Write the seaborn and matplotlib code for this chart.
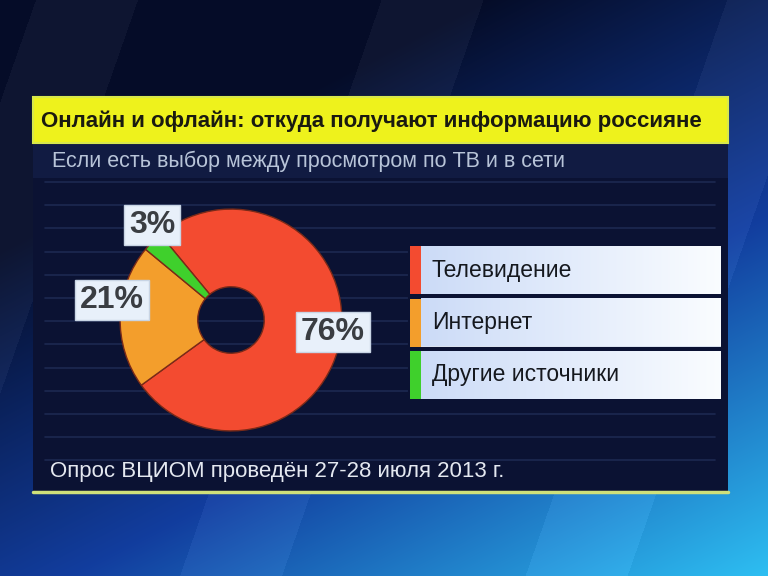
import numpy as np
import matplotlib
matplotlib.use("Agg")
import matplotlib.pyplot as plt
import seaborn as sns
from matplotlib.patches import Rectangle

sns.set_theme(style="white")
plt.rcParams['font.family'] = ['Liberation Sans', 'DejaVu Sans']

# ---- data ----
title = "Онлайн и офлайн: откуда получают информацию россияне"
subtitle = "Если есть выбор между просмотром по ТВ и в сети"
footer = "Опрос ВЦИОМ проведён 27-28 июля 2013 г."
categories = ["Телевидение", "Интернет", "Другие источники"]
values = [76, 21, 3]
labels = ["76%", "21%", "3%"]
colors = ["#f34b30", "#f39e2c", "#3fd02c"]

W, H = 768, 576
fig = plt.figure(figsize=(W / 100, H / 100), dpi=100)

# ---- background ----
bg = fig.add_axes([0, 0, 1, 1])
bg.set_xlim(0, W)
bg.set_ylim(H, 0)
bg.axis("off")
yy, xx = np.mgrid[0:H, 0:W] / np.array([H, W])[:, None, None]
t = np.clip(0.55 * xx + 0.8 * yy - 0.35, 0, 1)
dark = np.array([0.02, 0.05, 0.16])
mid = np.array([0.07, 0.24, 0.62])
light = np.array([0.18, 0.75, 0.95])
img = np.where(t[..., None] < 0.5,
               dark + (mid - dark) * (t[..., None] / 0.5),
               mid + (light - mid) * ((t[..., None] - 0.5) / 0.5))
band = 0.035 * (np.sin((xx * W + yy * H * 0.35) / 55.0) > 0.6)
img = np.clip(img + band[..., None], 0, 1)
bg.imshow(img, extent=[0, W, H, 0], aspect="auto", zorder=0)

# panel
bg.add_patch(Rectangle((33, 143), 695, 350, facecolor="#0b1233", edgecolor="none", zorder=1))
bg.add_patch(Rectangle((33, 143), 695, 35, facecolor="#111b42", edgecolor="none", zorder=1))
for y in np.arange(182, 462, 23.2):
    bg.plot([45, 715], [y, y], color="#1c2850", lw=1.2, zorder=2)
bg.plot([33, 728], [492, 492], color="#cfe07a", lw=2.5, zorder=2)

# title bar
bg.add_patch(Rectangle((33, 97), 695, 46, facecolor="#eef21c", edgecolor="#d8e84a", lw=1.5, zorder=3))
bg.text(371, 121, title, ha="center", va="center", fontsize=16, fontweight="bold",
        color="#1a1a10", zorder=4)
bg.text(52, 161, subtitle, ha="left", va="center", fontsize=15.5, color="#b8c4d8", zorder=4)
bg.text(50, 472, footer, ha="left", va="center", fontsize=16, color="#e4e8f0", zorder=4)

# legend boxes
for i, (cat, col) in enumerate(zip(categories, colors)):
    y0 = 245 + i * 52.5
    bg.add_patch(Rectangle((409, y0), 313, 50, facecolor="#e4ecf8", edgecolor="#0b1233", lw=1.5, zorder=3))
    grad = np.linspace(0, 1, 100)[None, :]
    bg.imshow(np.dstack([np.interp(grad, [0, 1], [0.80, 0.98]),
                         np.interp(grad, [0, 1], [0.86, 0.99]),
                         np.interp(grad, [0, 1], [0.97, 1.0])]),
              extent=[421, 721, y0 + 49, y0 + 1], aspect="auto", zorder=3.5)
    bg.add_patch(Rectangle((410, y0 + 1), 11, 48, facecolor=col, edgecolor="none", zorder=4))
    bg.text(432, y0 + 25, cat, ha="left", va="center", fontsize=16.5, color="#15181e", zorder=5)

# ---- pie ----
cx, cy, r = 231, 320, 112
pax = fig.add_axes([(cx - r) / W, 1 - (cy + r) / H, 2 * r / W, 2 * r / H])
wedges, _ = pax.pie(values, colors=colors, startangle=129.6, counterclock=False, radius=1.0,
                    wedgeprops=dict(width=0.7, edgecolor="#7a2a18", linewidth=1.0))
pax.set_xlim(-1.01, 1.01)
pax.set_ylim(-1.01, 1.01)
pax.axis("off")

# overlay for value labels
ov = fig.add_axes([0, 0, 1, 1])
ov.set_xlim(0, W)
ov.set_ylim(H, 0)
ov.axis("off")
ov.patch.set_alpha(0)
label_pos = {"76%": (333, 332), "21%": (112, 300), "3%": (152, 225)}
for lab in labels:
    x, y = label_pos[lab]
    ov.text(x, y, lab, ha="center", va="center", fontsize=23, fontweight="bold", color="#3a3d42",
            zorder=6,
            bbox=dict(boxstyle="square,pad=0.15", facecolor="#e8f0fa", edgecolor="#c8d4e4", lw=1))

fig.savefig("out.png", dpi=100)
